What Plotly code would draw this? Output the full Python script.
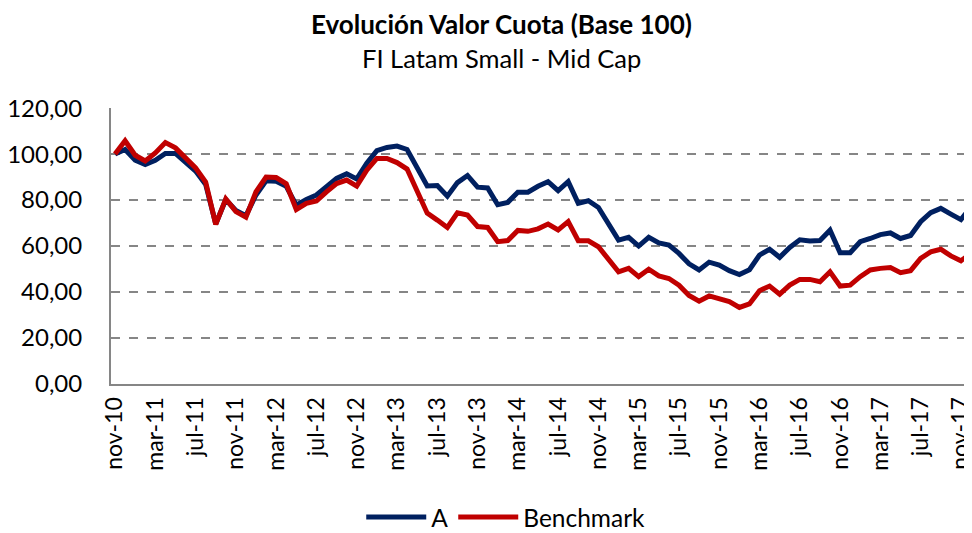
import pandas as pd
import plotly.graph_objects as go

# Monthly dates nov-10 .. dec-17
MESES = ["ene", "feb", "mar", "abr", "may", "jun", "jul", "ago", "sep", "oct", "nov", "dic"]
dates = pd.date_range("2010-11-01", periods=86, freq="MS")
months = [f"{MESES[d.month - 1]}-{str(d.year)[2:]}" for d in dates]

serie_a = [
    100.0, 102.0, 97.4, 95.5, 97.3, 100.3, 100.3, 96.6, 92.6, 86.8,
    69.6, 80.2, 75.5, 73.2, 82.2, 88.4, 88.2, 86.0, 77.8, 80.3,
    82.2, 85.8, 89.4, 91.4, 89.2, 96.0, 101.5, 102.9, 103.5, 102.0,
    94.5, 86.1, 86.3, 81.7, 87.6, 90.7, 85.6, 85.3, 78.0, 79.0,
    83.4, 83.4, 86.0, 88.0, 84.1, 88.0, 78.6, 79.7, 76.8, 69.6,
    62.6, 63.8, 60.0, 63.8, 61.4, 60.4, 56.8, 52.3, 49.6, 53.0,
    51.7, 49.3, 47.6, 49.7, 56.1, 58.6, 55.1, 59.4, 62.7, 62.2,
    62.4, 66.9, 57.1, 57.1, 61.9, 63.3, 65.0, 65.7, 63.3, 64.6,
    70.6, 74.5, 76.4, 73.9, 71.5, 77.0,
]

benchmark = [
    100.0, 105.8, 99.5, 97.0, 100.5, 105.0, 102.7, 98.1, 94.0, 87.8,
    69.4, 80.5, 75.0, 72.6, 83.6, 90.0, 89.8, 87.1, 75.9, 78.6,
    79.6, 83.6, 87.2, 88.7, 86.1, 93.0, 98.1, 98.1, 96.3, 93.5,
    84.3, 74.3, 71.3, 68.1, 74.5, 73.5, 68.5, 68.1, 61.9, 62.4,
    66.8, 66.4, 67.5, 69.6, 67.0, 70.6, 62.3, 62.3, 59.7, 53.9,
    48.8, 50.3, 46.7, 49.9, 47.0, 45.9, 43.0, 38.5, 36.0, 38.3,
    37.2, 35.8, 33.3, 34.8, 40.6, 42.6, 39.1, 43.0, 45.5, 45.5,
    44.5, 48.8, 42.6, 43.0, 46.7, 49.6, 50.3, 50.7, 48.4, 49.3,
    54.6, 57.5, 58.6, 55.7, 53.6, 56.8,
]

tick_labels = ["nov-10", "mar-11", "jul-11", "nov-11", "mar-12", "jul-12", "nov-12",
               "mar-13", "jul-13", "nov-13", "mar-14", "jul-14", "nov-14", "mar-15",
               "jul-15", "nov-15", "mar-16", "jul-16", "nov-16", "mar-17", "jul-17",
               "nov-17"]
y_ticks = [0, 20, 40, 60, 80, 100, 120]

FONT = "Lato"
BLUE = "#002060"
RED = "#C00000"
GREY = "#868686"

fig = go.Figure()
fig.add_trace(go.Scatter(x=months, y=serie_a, name="A", mode="lines",
                         line=dict(color=BLUE, width=5)))
fig.add_trace(go.Scatter(x=months, y=benchmark, name="Benchmark", mode="lines",
                         line=dict(color=RED, width=5)))

# The page body adds an 8px margin, so the figure is 8px smaller and shifted.
fig.update_layout(
    width=964, height=525,
    margin=dict(l=103, r=1, t=100, b=149, autoexpand=False),
    paper_bgcolor="white", plot_bgcolor="white",
    separators=",.",
    font=dict(family=FONT, size=24, color="#000000"),
    showlegend=True,
    legend=dict(orientation="h", x=0.459, xanchor="center", y=-0.482, yanchor="middle",
                font=dict(size=24.5), itemwidth=60, bgcolor="rgba(0,0,0,0)",
                borderwidth=0),
    annotations=[
        dict(text="<b>Evolución Valor Cuota (Base 100)</b>", xref="paper", yref="paper",
             x=0.4535, y=1.304, xanchor="center", yanchor="middle", showarrow=False,
             font=dict(size=26, family=FONT)),
        dict(text="FI Latam Small - Mid Cap", xref="paper", yref="paper",
             x=0.4535, y=1.181, xanchor="center", yanchor="middle", showarrow=False,
             font=dict(size=25.5, family=FONT)),
    ],
)

fig.update_xaxes(
    type="category", range=[-0.4, 85], automargin=False,
    tickmode="array", tickvals=[months[i] for i in range(0, 86, 4)][:len(tick_labels)],
    ticktext=tick_labels, tickangle=-90, ticks="", ticklabelstandoff=2,
    showgrid=False, showline=True, linecolor=GREY, linewidth=2, zeroline=False,
    tickfont=dict(size=23),
)
fig.update_yaxes(
    range=[0, 120.05], automargin=False,
    tickmode="array", tickvals=y_ticks, tickformat=".2f",
    showgrid=True, gridcolor=GREY, gridwidth=2, griddash="dash",
    showline=True, linecolor=GREY, linewidth=2, zeroline=False,
    ticks="", ticklabelstandoff=22, tickfont=dict(size=24),
)

fig.write_html("out.html")
